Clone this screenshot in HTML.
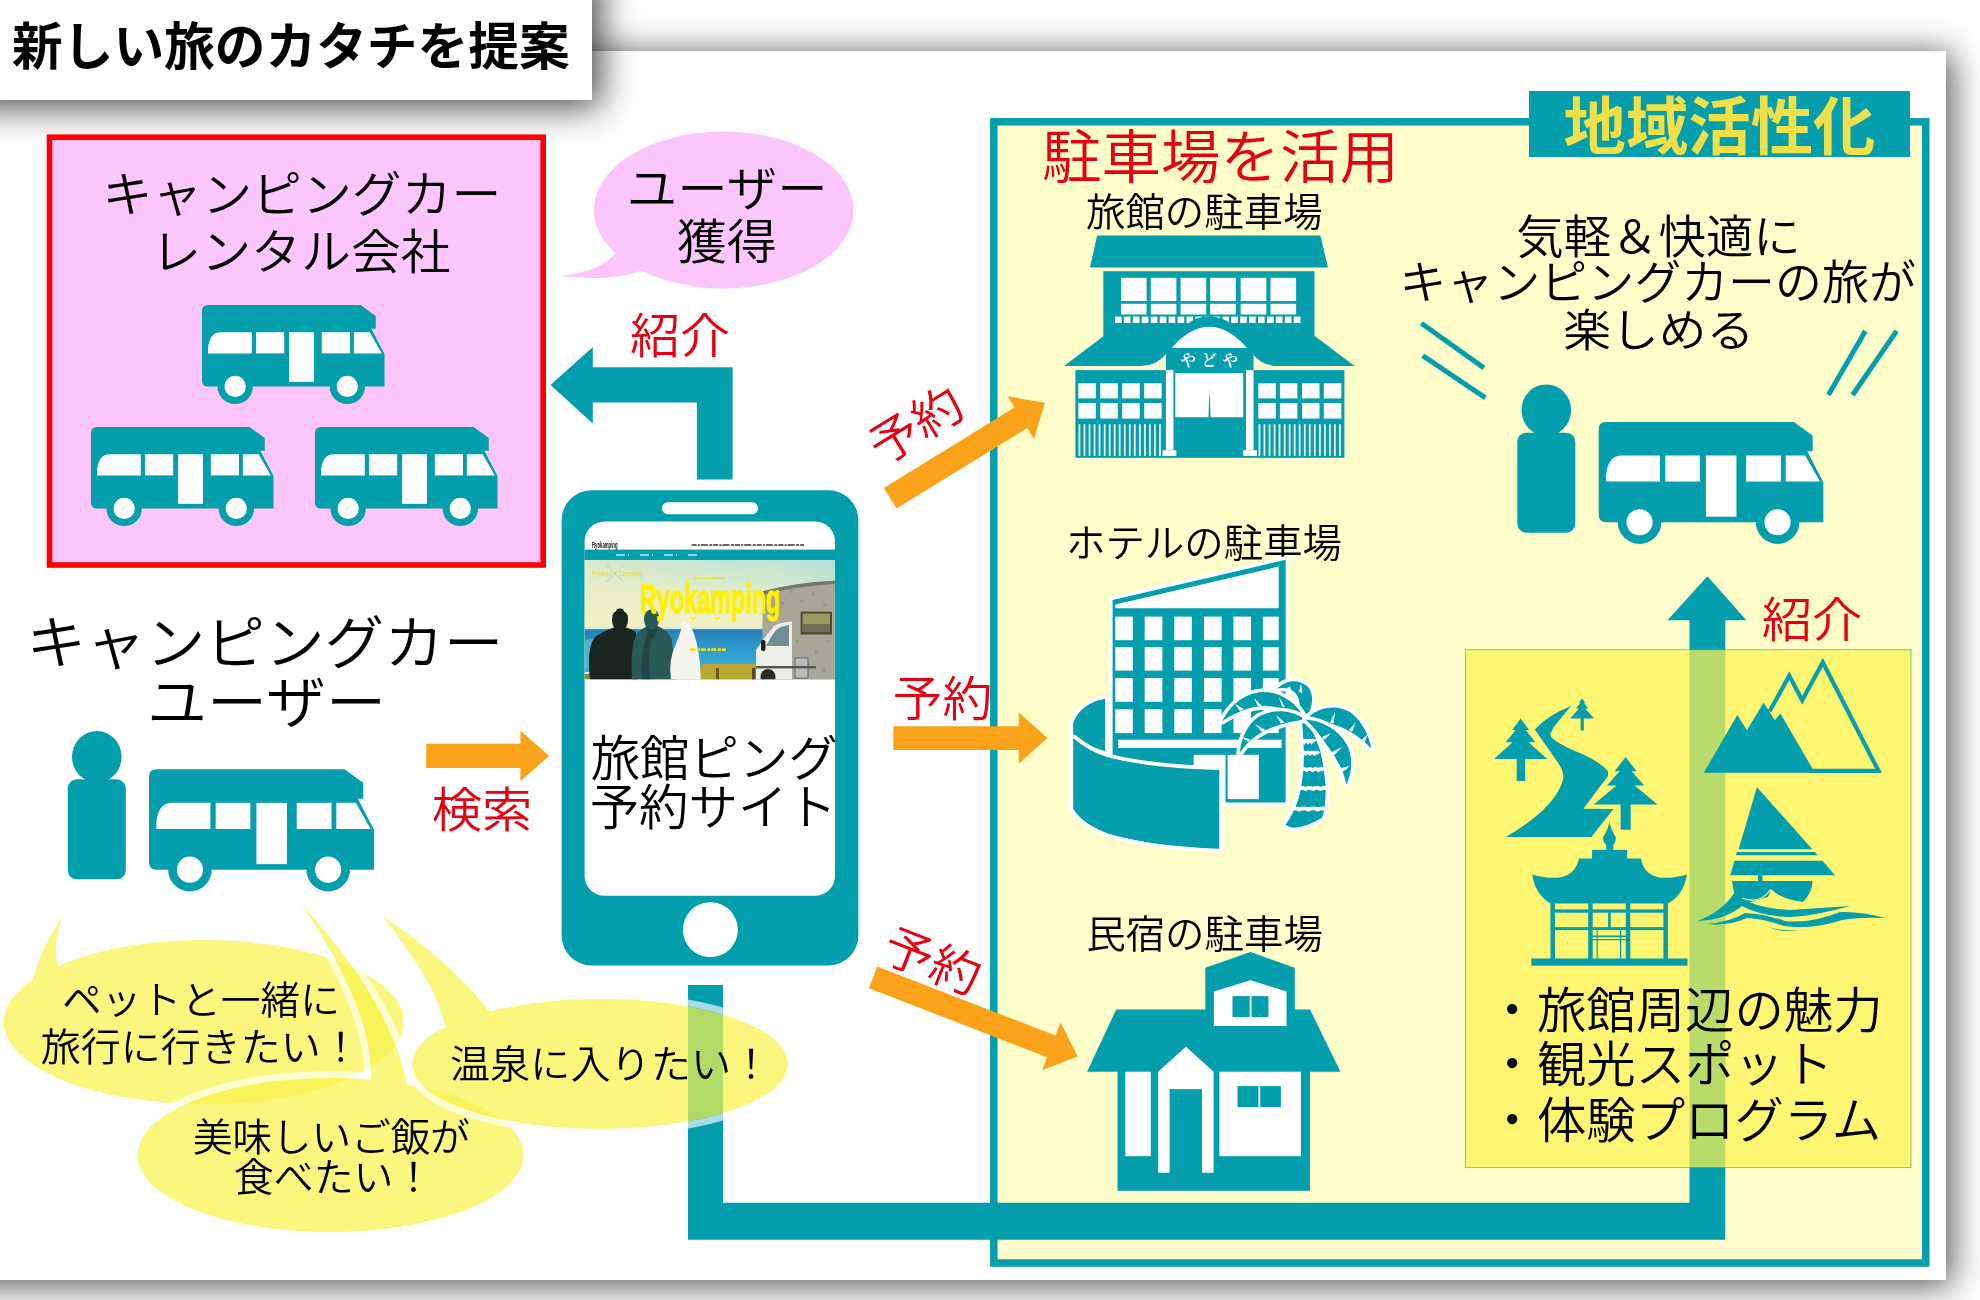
<!DOCTYPE html>
<html lang="ja"><head><meta charset="utf-8"><title>新しい旅のカタチを提案</title>
<style>
html,body{margin:0;padding:0;background:#fff;}
body{width:1980px;height:1300px;position:relative;overflow:hidden;font-family:"Liberation Sans", "Noto Sans CJK JP", sans-serif;}
#card{position:absolute;left:-40px;top:51px;width:1986px;height:1229px;background:#fff;box-shadow:4px 4px 32px 2px rgba(0,0,0,.66);}
#title{position:absolute;left:-40px;top:-40px;width:632px;height:140px;background:#fff;box-shadow:8px 7px 34px rgba(0,0,0,.72);}
#title span{position:absolute;left:52px;top:55px;font-size:50.7px;font-weight:700;line-height:66px;white-space:nowrap;color:#000;}
svg{position:absolute;left:0;top:0;will-change:transform;}
svg text{font-family:"Liberation Sans", "Noto Sans CJK JP", sans-serif;}
</style></head><body>
<div id="card"></div>
<div id="title"><span>新しい旅のカタチを提案</span></div>
<svg width="1980" height="1300" viewBox="0 0 1980 1300">

<defs>
<g id="van">
 <path fill="#049EAC" d="M6,0 H158.5 L173.8,11 V23.8 H169.4 L182.5,49 V81.4 H6 Q0,81.4 0,75.4 V6 Q0,0 6,0 Z"/>
 <circle cx="33.2" cy="81.4" r="17.7" fill="#049EAC"/>
 <circle cx="145.3" cy="81.4" r="17.7" fill="#049EAC"/>
 <circle cx="33.2" cy="81.4" r="10.6" fill="#fff"/>
 <circle cx="145.3" cy="81.4" r="10.6" fill="#fff"/>
 <path fill="#fff" d="M6,48.4 V43 Q7.5,27.2 19,27.2 H49.8 V48.4 Z"/>
 <rect x="54.1" y="27.2" width="28.1" height="21.2" fill="#fff"/>
 <rect x="87.1" y="27.2" width="24.8" height="49.7" fill="#fff"/>
 <rect x="119.8" y="27.2" width="28.2" height="21.2" fill="#fff"/>
 <path fill="#fff" d="M151.9,27.2 H167.7 L179.8,48.4 H151.9 Z"/>
</g>
<g id="person">
 <ellipse cx="0" cy="0" rx="24.8" ry="25.8" fill="#049EAC"/>
 <rect x="-29" y="22.5" width="58" height="100" rx="9" ry="9" fill="#049EAC"/>
</g>
<linearGradient id="sky" x1="0" y1="0" x2="1" y2="0.6">
 <stop offset="0" stop-color="#F4EDBE"/><stop offset="0.5" stop-color="#DCEBCB"/><stop offset="1" stop-color="#A9DCD6"/>
</linearGradient>
<linearGradient id="sea" x1="0" y1="0" x2="0" y2="1">
 <stop offset="0" stop-color="#3A8FBF"/><stop offset="1" stop-color="#1F7FB5"/>
</linearGradient>
</defs>

<rect x="993.8" y="121.8" width="932.0" height="1141.2" fill="#FFFDC9" stroke="#049EAC" stroke-width="7.5"/>
<rect x="1529.0" y="91.0" width="381.0" height="66.0" fill="#049EAC" />
<text x="1719.5" y="148.5" font-size="63" fill="#EFE04A" text-anchor="middle" font-weight="700" textLength="312" lengthAdjust="spacingAndGlyphs">地域活性化</text>
<path fill="#049EAC" d="M688,985 H723 V1202.8 H1689.5 V620.3 H1667.5 L1707.4,576.2 L1746.4,620.3 H1725.3 V1239.7 H688 Z"/>
<rect x="1465.4" y="649.7" width="445.6" height="517.9" fill="rgb(254,243,80)" fill-opacity="0.72" stroke="#049EAC" stroke-opacity="0.55" stroke-width="1"/>
<rect x="49.5" y="137.2" width="493.7" height="427.8" fill="#FBC6FB" stroke="#FF0000" stroke-width="5.6"/>
<text x="302.0" y="212.0" font-size="48.5" fill="#000" text-anchor="middle" font-weight="350"  textLength="399" lengthAdjust="spacingAndGlyphs">キャンピングカー</text>
<text x="301.0" y="269.0" font-size="48" fill="#000" text-anchor="middle" font-weight="350"  textLength="299.5" lengthAdjust="spacingAndGlyphs">レンタル会社</text>
<use href="#van" transform="translate(202,305)"/>
<use href="#van" transform="translate(91,427)"/>
<use href="#van" transform="translate(315,427)"/>
<path fill="#FBC6FB" d="M614.8,253.8 Q600,272 559.4,276 Q610,282 640.6,271 L655,245 Z"/>
<ellipse cx="723.7" cy="210" rx="130" ry="78.4" fill="#FBC6FB"/>
<text x="727.2" y="205.5" font-size="48" fill="#000" text-anchor="middle" font-weight="350"  textLength="201" lengthAdjust="spacingAndGlyphs">ユーザー</text>
<text x="726.7" y="259.0" font-size="48" fill="#000" text-anchor="middle" font-weight="350"  textLength="99.9" lengthAdjust="spacingAndGlyphs">獲得</text>
<path fill="#049EAC" d="M550.5,384.9 L592.8,346.9 V367.2 H732.6 V479.5 H696.9 V402.6 H592.8 V423.4 Z"/>
<text x="680.0" y="353.0" font-size="48" fill="#E60012" text-anchor="middle" font-weight="350"  textLength="100" lengthAdjust="spacingAndGlyphs">紹介</text>
<text x="265.0" y="664.0" font-size="58" fill="#000" text-anchor="middle" font-weight="350"  textLength="477" lengthAdjust="spacingAndGlyphs">キャンピングカー</text>
<text x="266.6" y="723.0" font-size="57" fill="#000" text-anchor="middle" font-weight="350"  textLength="239.3" lengthAdjust="spacingAndGlyphs">ユーザー</text>
<use href="#person" transform="translate(96.8,756.8)"/>
<use href="#van" transform="translate(149,769.3) scale(1.233)"/>
<path fill="#FAA31A" d="M426.2,743.8 H520.4 V730.5 L549.2,756 L520.4,781.2 V767.9 H426.2 Z"/>
<text x="482.0" y="826.5" font-size="48" fill="#E60012" text-anchor="middle" font-weight="350"  textLength="100.6" lengthAdjust="spacingAndGlyphs">検索</text>
<rect x="561.6" y="490.2" width="296.8" height="475.3" rx="30" ry="30" fill="#049EAC"/>
<rect x="584.6" y="521.5" width="250.4" height="374.3" rx="20" ry="20" fill="#fff"/>
<rect x="662" y="502.3" width="96" height="12" rx="6" ry="6" fill="#fff"/>
<circle cx="710.4" cy="929.7" r="27.5" fill="#fff"/>
<clipPath id="ph"><rect x="584.6" y="560" width="250.4" height="119.2"/></clipPath>
<linearGradient id="sky2" x1="0" y1="0" x2="0" y2="1"><stop offset="0" stop-color="#B9E3DC"/><stop offset="0.55" stop-color="#E4EDCB"/><stop offset="1" stop-color="#F4F1C6"/></linearGradient>
<linearGradient id="sky3" x1="0" y1="0" x2="1" y2="0"><stop offset="0" stop-color="#F6EFC0" stop-opacity=".55"/><stop offset="0.6" stop-color="#F6EFC0" stop-opacity=".15"/><stop offset="1" stop-color="#A9DCD6" stop-opacity=".5"/></linearGradient>
<linearGradient id="sea2" x1="0" y1="0" x2="0" y2="1"><stop offset="0" stop-color="#2B7DB4"/><stop offset="0.45" stop-color="#2C9BCB"/><stop offset="1" stop-color="#3FB2D2"/></linearGradient>
<rect x="584.6" y="549.6" width="250.4" height="10.6" fill="#049EAC" />
<text x="592" y="547.6" font-size="8.5" font-weight="700" fill="#111" textLength="25.5" lengthAdjust="spacingAndGlyphs">Ryokamping</text>
<line x1="691.6" y1="545" x2="804" y2="545" stroke="#333" stroke-width="1.5" stroke-dasharray="5 1.2 2 1 7 1.5 3 1"/>
<line x1="616" y1="555" x2="698" y2="555" stroke="#fff" stroke-opacity=".75" stroke-width="1.5" stroke-dasharray="9 3 1 11"/>
<g clip-path="url(#ph)">
<rect x="584.6" y="560" width="250.4" height="70" fill="url(#sky2)"/>
<rect x="584.6" y="560" width="250.4" height="70" fill="url(#sky3)"/>
<rect x="584.6" y="628.2" width="250.4" height="44" fill="url(#sea2)"/>
<rect x="584.6" y="627.6" width="250.4" height="1.6" fill="#CFE6DC"/>
<path fill="#6CC4DA" fill-opacity=".55" d="M584.6,640 Q600,636 618,642 L618,668 H584.6 Z"/>
<path fill="#8A8A2C" d="M584.6,674 Q640,669 700,670 L760,668 L835,668 V680 H584.6 Z"/>
<rect x="700" y="668" width="60" height="12" fill="#B7A82E"/>
<rect x="702" y="664" width="54" height="4" fill="#C79F37"/>
<rect x="716" y="668" width="3" height="12" fill="#6B5A22"/><rect x="752" y="668" width="3.5" height="12" fill="#5B4A1C"/>
<path fill="#A8A699" d="M762.5,591.2 Q795,582.5 835,580.7 V680 H762.5 Z"/>
<path fill="#77776B" d="M762.5,591.2 Q795,582.5 835,580.7 V584 Q795,586 764,595 Z"/>
<path fill="#8f8d80" fill-opacity=".6" d="M790,590 h3 v3 h-3z M800,600 h4 v3 h-4z M812,592 h3 v4 h-3z M823,604 h4 v3 h-4z M795,640 h4 v3 h-4z M815,650 h4 v4 h-4z M826,640 h3 v3 h-3z M806,662 h4 v3 h-4z M822,668 h3 v4 h-3z M781,602 h3 v3 h-3z M773,612 h3 v3 h-3z"/>
<path fill="#ECEEE8" d="M774,626 Q780,622 792,621.4 V680 H756 V650 Q764,638 774,626 Z"/>
<path fill="#6E8E93" d="M776,630 Q781,626 789,625 V646 H766 Q770,638 776,630 Z"/>
<rect x="761" y="640" width="4.5" height="11" rx="2" fill="#20201c"/>
<rect x="800.6" y="611.6" width="31.4" height="22.9" fill="#4B4A3A"/><rect x="802.6" y="613.6" width="27.4" height="18.5" fill="#9A9960"/><rect x="802.6" y="624" width="27.4" height="8" fill="#6D7058"/>
<rect x="795" y="658" width="13" height="20" fill="#B9BCB4" stroke="#555" stroke-width=".8"/>
<ellipse cx="768" cy="677" rx="7.5" ry="8" fill="#2E2A22"/>
<rect x="756" y="666" width="60" height="2.4" fill="#55564c"/>
<path fill="#1B2620" d="M590,680 Q586,646 596,636 Q606,630 614,627.5 Q611,622 612.5,616 Q613,612 616,611.5 Q616.5,608 620,608.5 Q623.5,608 624,611.5 Q628,613 628,618 Q628.5,623 626,627.5 Q632,629 636,632 L638,680 Z"/>
<path fill="#2A5A58" d="M632,680 Q630,644 637,634 Q641,629 646,626.7 Q643,621 644.5,615 Q647,609 652,609.5 Q658,609.5 659,616 Q660,621 657.5,626 Q668,630 672,640 L676,680 Z"/>
<path fill="#1E4446" d="M648,634 Q640,650 642,680 H650 Q648,655 651,640 Z"/>
<path fill="#1E4446" d="M646,626.7 Q652,633 657.5,626 Q656,638 651,640 Q647,636 646,626.7Z"/>
<path fill="#F5F5EF" d="M671,680 Q668,660 676,644 Q680,634 681.5,628 Q681,622 684.5,621 Q690,624 692.5,630 Q700,648 700.8,680 Z"/>
</g>
<text x="710" y="612.9" font-size="40" font-weight="700" fill="#FFF100" stroke="#FFF100" stroke-width="1.3" text-anchor="middle" textLength="140.6" lengthAdjust="spacingAndGlyphs">Ryokamping</text>
<text x="591.8" y="576" font-size="6.5" fill="#E9DD22" textLength="50.6" lengthAdjust="spacingAndGlyphs">Ryokan × Camping</text>
<line x1="606.3" y1="565" x2="623.3" y2="582" stroke="#b4c4ae" stroke-width=".7"/><line x1="623.3" y1="565" x2="606.3" y2="582" stroke="#b4c4ae" stroke-width=".7"/>
<line x1="694.2" y1="578.3" x2="724.4" y2="578.3" stroke="#E9DD22" stroke-width="1.6" stroke-dasharray="4 1 3 1"/>
<line x1="690.3" y1="649.6" x2="725.8" y2="649.6" stroke="#E9DD22" stroke-width="2.6" stroke-dasharray="5 1.5 3 1"/>
<path d="M690,617 l3,2.5 l3,-2.5 M714,617 l3,2.5 l3,-2.5" stroke="#FFF100" stroke-width="1.6" fill="none"/>
<text x="714.2" y="775.5" font-size="48.5" fill="#000" text-anchor="middle" font-weight="350"  textLength="247" lengthAdjust="spacingAndGlyphs">旅館ピング</text>
<text x="713.2" y="825.0" font-size="48.5" fill="#000" text-anchor="middle" font-weight="350"  textLength="247" lengthAdjust="spacingAndGlyphs">予約サイト</text>
<polygon fill="#FAA31A" points="896.6,508.5 1027.2,428.0 1034.0,439.1 1044.9,402.8 1007.6,396.2 1014.5,407.4 883.8,487.9"/>
<polygon fill="#FAA31A" points="893.4,750.0 1018.8,750.0 1018.8,763.7 1047.4,738.1 1018.8,712.5 1018.8,726.2 893.4,726.2"/>
<polygon fill="#FAA31A" points="868.9,988.2 1047.1,1057.2 1042.1,1070.2 1077.7,1056.6 1060.5,1022.6 1055.5,1035.6 877.3,966.6"/>
<text x="0.0" y="0.0" font-size="48" fill="#E60012" text-anchor="middle" font-weight="350" transform="translate(925,440) rotate(-31.7)" textLength="100" lengthAdjust="spacingAndGlyphs">予約</text>
<text x="942.4" y="716.0" font-size="48" fill="#E60012" text-anchor="middle" font-weight="350"  textLength="100" lengthAdjust="spacingAndGlyphs">予約</text>
<text x="0.0" y="0.0" font-size="48" fill="#E60012" text-anchor="middle" font-weight="350" transform="translate(926,977.3) rotate(21.2)" textLength="100" lengthAdjust="spacingAndGlyphs">予約</text>
<text x="1204.3" y="225.5" font-size="39" fill="#000" text-anchor="middle" font-weight="350"  textLength="236.6" lengthAdjust="spacingAndGlyphs">旅館の駐車場</text>
<text x="1220.5" y="178.0" font-size="58" fill="#E60012" text-anchor="middle" font-weight="350"  textLength="357.2" lengthAdjust="spacingAndGlyphs">駐車場を活用</text>
<text x="1204.0" y="556.5" font-size="39" fill="#000" text-anchor="middle" font-weight="350"  textLength="276" lengthAdjust="spacingAndGlyphs">ホテルの駐車場</text>
<text x="1204.6" y="947.5" font-size="39" fill="#000" text-anchor="middle" font-weight="350"  textLength="236.8" lengthAdjust="spacingAndGlyphs">民宿の駐車場</text>
<polygon fill="#049EAC" points="1097.1,235.4 1320.4,235.4 1328,267.4 1090,267.4"/>
<rect x="1103.3" y="271.2" width="211.2" height="65.8" fill="#049EAC" />
<rect x="1121.0" y="277.8" width="25.6" height="23.2" fill="#fff" />
<rect x="1121.0" y="303.8" width="25.6" height="10.7" fill="#fff" />
<rect x="1150.8" y="277.8" width="25.6" height="23.2" fill="#fff" />
<rect x="1150.8" y="303.8" width="25.6" height="10.7" fill="#fff" />
<rect x="1180.6" y="277.8" width="25.6" height="23.2" fill="#fff" />
<rect x="1180.6" y="303.8" width="25.6" height="10.7" fill="#fff" />
<rect x="1210.2" y="277.8" width="25.6" height="23.2" fill="#fff" />
<rect x="1210.2" y="303.8" width="25.6" height="10.7" fill="#fff" />
<rect x="1240.7" y="277.8" width="25.6" height="23.2" fill="#fff" />
<rect x="1240.7" y="303.8" width="25.6" height="10.7" fill="#fff" />
<rect x="1270.5" y="277.8" width="25.6" height="23.2" fill="#fff" />
<rect x="1270.5" y="303.8" width="25.6" height="10.7" fill="#fff" />
<rect x="1115.0" y="316.6" width="6.6" height="6.4" fill="#fff" />
<rect x="1123.9" y="316.6" width="6.6" height="6.4" fill="#fff" />
<rect x="1132.9" y="316.6" width="6.6" height="6.4" fill="#fff" />
<rect x="1141.8" y="316.6" width="6.6" height="6.4" fill="#fff" />
<rect x="1150.8" y="316.6" width="6.6" height="6.4" fill="#fff" />
<rect x="1159.7" y="316.6" width="6.6" height="6.4" fill="#fff" />
<rect x="1168.6" y="316.6" width="6.6" height="6.4" fill="#fff" />
<rect x="1177.6" y="316.6" width="6.6" height="6.4" fill="#fff" />
<rect x="1186.5" y="316.6" width="6.6" height="6.4" fill="#fff" />
<rect x="1195.5" y="316.6" width="6.6" height="6.4" fill="#fff" />
<rect x="1204.4" y="316.6" width="6.6" height="6.4" fill="#fff" />
<rect x="1213.3" y="316.6" width="6.6" height="6.4" fill="#fff" />
<rect x="1222.3" y="316.6" width="6.6" height="6.4" fill="#fff" />
<rect x="1231.2" y="316.6" width="6.6" height="6.4" fill="#fff" />
<rect x="1240.2" y="316.6" width="6.6" height="6.4" fill="#fff" />
<rect x="1249.1" y="316.6" width="6.6" height="6.4" fill="#fff" />
<rect x="1258.0" y="316.6" width="6.6" height="6.4" fill="#fff" />
<rect x="1267.0" y="316.6" width="6.6" height="6.4" fill="#fff" />
<rect x="1275.9" y="316.6" width="6.6" height="6.4" fill="#fff" />
<rect x="1284.9" y="316.6" width="6.6" height="6.4" fill="#fff" />
<rect x="1293.8" y="316.6" width="6.6" height="6.4" fill="#fff" />
<path fill="#049EAC" d="M1103.3,336.2 H1315.3 L1354.5,366 H1278.1 Q1262,366 1252.7,354 H1165.9 Q1156.6,366 1140.5,366 H1064.1 Z"/>
<path fill="#049EAC" d="M1158,337 Q1178,334 1186,325 Q1196,316.6 1209.3,316.6 Q1222.6,316.6 1232.6,325 Q1240.6,334 1260.6,337 V348 H1158 Z"/>
<rect x="1165.9" y="347.0" width="87.6" height="24.0" fill="#049EAC" />
<path fill="#fff" d="M1171.6,347.9 Q1209.3,305.7 1247,347.9 Z"/>
<rect x="1075.4" y="370.1" width="269.0" height="87.7" fill="#049EAC" />
<rect x="1165.9" y="370.1" width="7.5" height="80.1" fill="#fff" />
<rect x="1162.5" y="450.2" width="13.8" height="5.7" fill="#fff" />
<rect x="1246.0" y="370.1" width="7.5" height="80.1" fill="#fff" />
<rect x="1243.2" y="450.2" width="13.7" height="5.7" fill="#fff" />
<path fill="#fff" d="M1175.3,373.3 H1243.2 V417.2 H1210.6 L1209.6,389 L1208.4,417.2 H1175.3 Z"/>
<rect x="1078.3" y="383.3" width="17.5" height="15.1" fill="#fff" />
<rect x="1078.3" y="403.1" width="17.5" height="15.5" fill="#fff" />
<rect x="1100.3" y="383.3" width="17.5" height="15.1" fill="#fff" />
<rect x="1100.3" y="403.1" width="17.5" height="15.5" fill="#fff" />
<rect x="1122.2" y="383.3" width="17.5" height="15.1" fill="#fff" />
<rect x="1122.2" y="403.1" width="17.5" height="15.5" fill="#fff" />
<rect x="1144.2" y="383.3" width="17.5" height="15.1" fill="#fff" />
<rect x="1144.2" y="403.1" width="17.5" height="15.5" fill="#fff" />
<rect x="1258.3" y="383.3" width="17.5" height="15.1" fill="#fff" />
<rect x="1258.3" y="403.1" width="17.5" height="15.5" fill="#fff" />
<rect x="1279.9" y="383.3" width="17.5" height="15.1" fill="#fff" />
<rect x="1279.9" y="403.1" width="17.5" height="15.5" fill="#fff" />
<rect x="1302.0" y="383.3" width="17.5" height="15.1" fill="#fff" />
<rect x="1302.0" y="403.1" width="17.5" height="15.5" fill="#fff" />
<rect x="1323.8" y="383.3" width="17.5" height="15.1" fill="#fff" />
<rect x="1323.8" y="403.1" width="17.5" height="15.5" fill="#fff" />
<rect x="1078.6" y="424.2" width="1.7" height="31.7" fill="#fff" />
<rect x="1258.6" y="424.2" width="1.7" height="31.7" fill="#fff" />
<rect x="1083.6" y="424.2" width="1.7" height="31.7" fill="#fff" />
<rect x="1263.6" y="424.2" width="1.7" height="31.7" fill="#fff" />
<rect x="1088.7" y="424.2" width="1.7" height="31.7" fill="#fff" />
<rect x="1268.7" y="424.2" width="1.7" height="31.7" fill="#fff" />
<rect x="1093.7" y="424.2" width="1.7" height="31.7" fill="#fff" />
<rect x="1273.7" y="424.2" width="1.7" height="31.7" fill="#fff" />
<rect x="1098.7" y="424.2" width="1.7" height="31.7" fill="#fff" />
<rect x="1278.7" y="424.2" width="1.7" height="31.7" fill="#fff" />
<rect x="1103.8" y="424.2" width="1.7" height="31.7" fill="#fff" />
<rect x="1283.8" y="424.2" width="1.7" height="31.7" fill="#fff" />
<rect x="1108.8" y="424.2" width="1.7" height="31.7" fill="#fff" />
<rect x="1288.8" y="424.2" width="1.7" height="31.7" fill="#fff" />
<rect x="1113.8" y="424.2" width="1.7" height="31.7" fill="#fff" />
<rect x="1293.8" y="424.2" width="1.7" height="31.7" fill="#fff" />
<rect x="1118.8" y="424.2" width="1.7" height="31.7" fill="#fff" />
<rect x="1298.8" y="424.2" width="1.7" height="31.7" fill="#fff" />
<rect x="1123.9" y="424.2" width="1.7" height="31.7" fill="#fff" />
<rect x="1303.9" y="424.2" width="1.7" height="31.7" fill="#fff" />
<rect x="1128.9" y="424.2" width="1.7" height="31.7" fill="#fff" />
<rect x="1308.9" y="424.2" width="1.7" height="31.7" fill="#fff" />
<rect x="1133.9" y="424.2" width="1.7" height="31.7" fill="#fff" />
<rect x="1313.9" y="424.2" width="1.7" height="31.7" fill="#fff" />
<rect x="1139.0" y="424.2" width="1.7" height="31.7" fill="#fff" />
<rect x="1319.0" y="424.2" width="1.7" height="31.7" fill="#fff" />
<rect x="1144.0" y="424.2" width="1.7" height="31.7" fill="#fff" />
<rect x="1324.0" y="424.2" width="1.7" height="31.7" fill="#fff" />
<rect x="1149.0" y="424.2" width="1.7" height="31.7" fill="#fff" />
<rect x="1329.0" y="424.2" width="1.7" height="31.7" fill="#fff" />
<rect x="1154.0" y="424.2" width="1.7" height="31.7" fill="#fff" />
<rect x="1334.0" y="424.2" width="1.7" height="31.7" fill="#fff" />
<rect x="1159.1" y="424.2" width="1.7" height="31.7" fill="#fff" />
<rect x="1339.1" y="424.2" width="1.7" height="31.7" fill="#fff" />
<text x="1212" y="365.5" font-size="15.5" fill="#fff" text-anchor="middle" font-weight="700" style="font-family:'Liberation Serif','Noto Serif CJK SC',serif" letter-spacing="5.5">やどや</text><path fill="#049EAC" stroke="#fff" stroke-width="7.5" stroke-linejoin="round" paint-order="stroke" d="M1112.6,600 L1285.6,559.8 V802.6 H1225.5 V771 H1112.6 Z"/>
<path fill="#fff" d="M1115.3,604.4 L1278.7,566.6 V608.3 H1115.3 Z"/>
<rect x="1115.3" y="616.6" width="17.5" height="23.6" fill="#fff" />
<rect x="1115.3" y="647.1" width="17.5" height="23.5" fill="#fff" />
<rect x="1115.3" y="678.1" width="17.5" height="23.7" fill="#fff" />
<rect x="1115.3" y="709.3" width="17.5" height="23.8" fill="#fff" />
<rect x="1144.7" y="616.6" width="17.7" height="23.6" fill="#fff" />
<rect x="1144.7" y="647.1" width="17.7" height="23.5" fill="#fff" />
<rect x="1144.7" y="678.1" width="17.7" height="23.7" fill="#fff" />
<rect x="1144.7" y="709.3" width="17.7" height="23.8" fill="#fff" />
<rect x="1174.3" y="616.6" width="17.5" height="23.6" fill="#fff" />
<rect x="1174.3" y="647.1" width="17.5" height="23.5" fill="#fff" />
<rect x="1174.3" y="678.1" width="17.5" height="23.7" fill="#fff" />
<rect x="1174.3" y="709.3" width="17.5" height="23.8" fill="#fff" />
<rect x="1204.0" y="616.6" width="17.6" height="23.6" fill="#fff" />
<rect x="1204.0" y="647.1" width="17.6" height="23.5" fill="#fff" />
<rect x="1204.0" y="678.1" width="17.6" height="23.7" fill="#fff" />
<rect x="1204.0" y="709.3" width="17.6" height="23.8" fill="#fff" />
<rect x="1233.5" y="616.6" width="17.5" height="23.6" fill="#fff" />
<rect x="1233.5" y="647.1" width="17.5" height="23.5" fill="#fff" />
<rect x="1233.5" y="678.1" width="17.5" height="23.7" fill="#fff" />
<rect x="1233.5" y="709.3" width="17.5" height="23.8" fill="#fff" />
<rect x="1262.9" y="616.6" width="15.8" height="23.6" fill="#fff" />
<rect x="1262.9" y="647.1" width="15.8" height="23.5" fill="#fff" />
<rect x="1262.9" y="678.1" width="15.8" height="23.7" fill="#fff" />
<rect x="1262.9" y="709.3" width="15.8" height="23.8" fill="#fff" />
<rect x="1118.2" y="739.7" width="163.4" height="8.2" fill="#fff" />
<rect x="1193.7" y="754.8" width="31.8" height="17.2" fill="#fff" />
<rect x="1227.6" y="754.8" width="31.2" height="44.3" fill="#fff" />
<path fill="#049EAC" stroke="#fff" stroke-width="7.5" stroke-linejoin="round" paint-order="stroke" d="M1073.2,722.9 Q1080,703.5 1105,698.7 V751.3 Q1082,744 1073.2,734.7 Z"/>
<path fill="#049EAC" stroke="#fff" stroke-width="7.5" stroke-linejoin="round" paint-order="stroke" d="M1073.2,738.2 Q1090,752 1108.5,757.6 Q1150,768 1219.3,770 V848.7 Q1150,846 1108.5,833.7 Q1082,824 1073.2,808.8 Z"/>
<path fill="#049EAC" stroke="#fff" stroke-width="7" stroke-linejoin="round" paint-order="stroke" d="M1302,722 C1304,745 1306,770 1298.6,798.5 Q1293,815 1285.5,824.8 Q1296,833 1322.2,817.8 C1328,800 1326,775 1320,750 Q1314,735 1310,722 Z"/>
<path fill="#049EAC" stroke="#fff" stroke-width="7" stroke-linejoin="round" paint-order="stroke" d="M1305.5,719.5 C1313,708 1315,694 1307,686 C1298,678.5 1286,680 1277,688.5 C1290,686 1297,692 1299,700 C1300,708 1302,714 1305.5,719.5 Z"/>
<path fill="#049EAC" stroke="#fff" stroke-width="7" stroke-linejoin="round" paint-order="stroke" d="M1305.5,719.5 C1295,700 1278,691.5 1262,692 C1245,693 1230,705 1222.5,720.9 C1236,712 1250,706.5 1264,706 C1280,706 1294,712 1305.5,719.5 Z"/>
<path fill="#049EAC" stroke="#fff" stroke-width="7" stroke-linejoin="round" paint-order="stroke" d="M1305.5,719.5 C1290,709 1272,709 1258,717 C1246,726 1241,740 1239.8,752.8 C1247,742 1256,735 1266,730 C1280,724 1293,721 1305.5,719.5 Z"/>
<path fill="#049EAC" stroke="#fff" stroke-width="7" stroke-linejoin="round" paint-order="stroke" d="M1305.5,719.5 C1320,705 1338,705 1350,712 C1362,721 1369,735 1371.3,748.6 C1362,739 1352,731.5 1342,727.5 C1330,722.5 1318,720.5 1305.5,719.5 Z"/>
<path fill="#049EAC" stroke="#fff" stroke-width="7" stroke-linejoin="round" paint-order="stroke" d="M1305.5,719.5 C1325,721 1341,732 1348,747 C1353,760 1352,773 1346.4,784.6 C1344,772 1338,761 1331,751 C1323,739 1315,728 1305.5,719.5 Z"/>
<path d="M1301.0,741.7 q1.8,-2.2 3.5,0 q1.8,-2.2 3.5,0 q1.8,-2.2 3.5,0 q1.8,-2.2 3.5,0" fill="none" stroke="#fff" stroke-width="3.8"/>
<path d="M1301.0,753.5 q2.2,-2.2 4.5,0 q2.2,-2.2 4.5,0 q2.2,-2.2 4.5,0 q2.2,-2.2 4.5,0" fill="none" stroke="#fff" stroke-width="3.8"/>
<path d="M1301.0,770.0 q2.9,-2.2 5.8,0 q2.9,-2.2 5.8,0 q2.9,-2.2 5.8,0 q2.9,-2.2 5.8,0" fill="none" stroke="#fff" stroke-width="3.8"/>
<path d="M1298.0,789.0 q3.8,-2.2 7.5,0 q3.8,-2.2 7.5,0 q3.8,-2.2 7.5,0 q3.8,-2.2 7.5,0" fill="none" stroke="#fff" stroke-width="3.8"/>
<path d="M1290.0,809.5 q4.6,-2.2 9.2,0 q4.6,-2.2 9.2,0 q4.6,-2.2 9.2,0 q4.6,-2.2 9.2,0" fill="none" stroke="#fff" stroke-width="3.8"/>
<polygon points="1290,686.5 1293,695 1287,688" fill="#fff"/>
<polygon points="1299,692 1301,684 1302.5,693" fill="#fff"/>
<polygon points="1282,706.5 1279,697 1285,707" fill="#fff"/>
<polygon points="1258,706.5 1254,698 1262,706" fill="#fff"/>
<polygon points="1240,711 1235,704 1244,709" fill="#fff"/>
<polygon points="1281,723.5 1276,715 1284.5,722.5" fill="#fff"/>
<polygon points="1262,732 1255,724 1265.5,730" fill="#fff"/>
<polygon points="1248,742 1242,737 1250.5,739.5" fill="#fff"/>
<polygon points="1330,722.5 1335,712 1333.5,723.5" fill="#fff"/>
<polygon points="1349,730 1356,722 1352,732" fill="#fff"/>
<polygon points="1362,739.5 1368,734 1364.5,742" fill="#fff"/>
<polygon points="1322,737 1331,733 1324,740" fill="#fff"/>
<polygon points="1332,752 1342,747 1334,755.5" fill="#fff"/>
<polygon points="1341,768 1350,766 1342.5,772" fill="#fff"/>
<polygon fill="#049EAC" points="1205.3,967.8 1250.5,952.1 1294.8,967.8 1294.8,1012 1205.3,1012"/>
<polygon fill="#049EAC" points="1116.2,1009.4 1310,1009.4 1340.5,1071.7 1087.1,1071.7"/>
<rect x="1117.5" y="1071.0" width="192.5" height="119.8" fill="#049EAC" />
<polygon fill="#fff" points="1213.9,991.4 1250.5,980.3 1286.5,991.4 1286.5,1026 1213.9,1026"/>
<rect x="1232.5" y="996.1" width="36.0" height="21.0" fill="#049EAC" />
<rect x="1249.7" y="996.1" width="1.8" height="21.0" fill="#fff" />
<rect x="1125.3" y="1071.7" width="25.5" height="84.5" fill="#fff" />
<polygon fill="#fff" points="1185.9,1046.8 1213.6,1071.7 1213.6,1172.8 1158.2,1172.8 1158.2,1071.7"/>
<rect x="1169.6" y="1089.1" width="32.4" height="84.4" fill="#049EAC" />
<rect x="1219.4" y="1071.7" width="81.5" height="84.5" fill="#fff" />
<rect x="1237.5" y="1086.1" width="43.4" height="21.0" fill="#049EAC" />
<rect x="1258.4" y="1086.1" width="1.8" height="21.0" fill="#fff" />
<text x="1658.5" y="252.5" font-size="46" fill="#000" text-anchor="middle" font-weight="350"  textLength="284.3" lengthAdjust="spacingAndGlyphs">気軽＆快適に</text>
<text x="1657.7" y="299.0" font-size="46.2" fill="#000" text-anchor="middle" font-weight="350"  textLength="516.4" lengthAdjust="spacingAndGlyphs">キャンピングカーの旅が</text>
<text x="1658.8" y="347.0" font-size="45.5" fill="#000" text-anchor="middle" font-weight="350"  textLength="191.2" lengthAdjust="spacingAndGlyphs">楽しめる</text>
<line x1="1421.3" y1="323.2" x2="1483.9" y2="367.9" stroke="#049EAC" stroke-width="5"/>
<line x1="1422.7" y1="355.7" x2="1485.4" y2="397.8" stroke="#049EAC" stroke-width="5"/>
<line x1="1865.4" y1="330.9" x2="1828.4" y2="395" stroke="#049EAC" stroke-width="5"/>
<line x1="1896.7" y1="330.9" x2="1852.6" y2="395" stroke="#049EAC" stroke-width="5"/>
<use href="#person" transform="translate(1546.3,410.2)"/>
<use href="#van" transform="translate(1598.7,422) scale(1.231)"/>
<text x="1812.0" y="636.5" font-size="48" fill="#E60012" text-anchor="middle" font-weight="350"  textLength="100.7" lengthAdjust="spacingAndGlyphs">紹介</text>
<path fill="#049EAC" d="M1571.1,706 Q1548,715 1534.8,729.4 L1546.4,746 L1558.7,763.8 Q1566,775 1561.8,783.5 Q1552,810 1505.8,837 H1591.4 L1613.5,809.1 L1583.4,808.7 L1608,776.1 V771.2 Q1600,762 1582.1,754 Q1560,745 1553.8,739.2 Q1549,736 1550.8,733.1 Q1553,727 1558.8,720.8 Q1565,713 1571.1,706 Z"/>
<polygon fill="#049EAC" stroke="#FFF57C" stroke-width="3" stroke-linejoin="miter" paint-order="stroke" points="1520.6,718.5 1529.1,730.0 1525.6,730.0 1535.6,742.3 1528.6,742.3 1547.2,758.9 1525.2,758.9 1525.2,781.1 1516.7,781.1 1516.7,758.9 1494.0,758.9 1512.6,742.3 1505.6,742.3 1515.6,730.0 1512.1,730.0"/>
<polygon fill="#049EAC" stroke="#FFF57C" stroke-width="3" stroke-linejoin="miter" paint-order="stroke" points="1582.1,698.4 1585.3,702.5 1583.6,702.5 1588.3,708.5 1585.1,708.5 1594.1,718.5 1583.8,718.5 1583.8,730.6 1580.6,730.6 1580.6,718.5 1570.1,718.5 1579.1,708.5 1575.9,708.5 1580.6,702.5 1578.9,702.5"/>
<polygon fill="#049EAC" stroke="#FFF57C" stroke-width="3" stroke-linejoin="miter" paint-order="stroke" points="1625.6,757.1 1636.7,771.2 1631.6,771.2 1644.4,785.4 1634.6,785.4 1657.6,804.4 1630.7,804.4 1630.7,829.7 1620.6,829.7 1620.6,804.4 1593.6,804.4 1616.6,785.4 1606.8,785.4 1619.6,771.2 1614.5,771.2"/>
<path fill="#049EAC" d="M1609.4,821.8 Q1611,830 1616,837.5 Q1616,842 1613.3,844.7 V850 H1606.1 V844.7 Q1603,842 1602.9,837.5 Q1608,830 1609.4,821.8 Z"/>
<rect x="1592.1" y="849.9" width="35.0" height="9.1" fill="#049EAC" />
<path fill="#049EAC" d="M1579.1,858.4 H1640.8 Q1646,886 1686.9,874.4 Q1684,894 1668,903.5 H1550.5 Q1535,894 1532.2,874.4 Q1573,886 1579.1,858.4 Z"/>
<rect x="1550.5" y="903.0" width="4.5" height="56.0" fill="#049EAC" />
<rect x="1588.2" y="903.0" width="4.5" height="56.0" fill="#049EAC" />
<rect x="1625.8" y="903.0" width="4.5" height="56.0" fill="#049EAC" />
<rect x="1663.4" y="903.0" width="4.5" height="56.0" fill="#049EAC" />
<rect x="1550.5" y="909.4" width="117.5" height="3.3" fill="#049EAC" />
<rect x="1550.5" y="927.1" width="117.5" height="3.0" fill="#049EAC" />
<rect x="1608.1" y="912.0" width="2.6" height="16.0" fill="#049EAC" />
<rect x="1592.0" y="935.5" width="34.0" height="1.7" fill="#049EAC" />
<rect x="1592.0" y="939.0" width="34.0" height="1.2" fill="#049EAC" />
<rect x="1596.6" y="930.0" width="1.2" height="29.0" fill="#049EAC" />
<rect x="1620.0" y="930.0" width="1.2" height="29.0" fill="#049EAC" />
<rect x="1531.3" y="958.5" width="156.2" height="7.2" fill="#049EAC" />
<polygon fill="#049EAC" points="1703.8,772.7 1737.3,715.1 1746.9,730.3 1763.6,702.4 1774.8,720.3 1780.4,713.6 1812.3,768.3 1812.3,772.7"/>
<polyline fill="none" stroke="#049EAC" stroke-width="4.2" stroke-linejoin="miter" points="1769.5,711.5 1789.3,675.7 1802.2,700.2 1822.8,662.3 1878.5,770.9 1810,770.9"/>
<polygon fill="#049EAC" points="1756.9,787.2 1812.3,849.2 1738.6,849.2"/>
<polygon fill="#049EAC" points="1736.9,851.9 1814.8,851.9 1817.8,855.3 1735.9,855.3"/>
<polygon fill="#049EAC" points="1734.5,860.8 1822.5,860.8 1835,875.3 1730.2,875.3"/>
<rect x="1758.0" y="875.0" width="4.5" height="6.5" fill="#049EAC" />
<path fill="#049EAC" d="M1731.9,880.9 H1812.7 Q1812,893 1803,902 Q1780,899 1771,889 L1768,897 Q1750,902 1738,906 Q1734,895 1731.9,880.9 Z"/>
<path fill="#049EAC" d="M1697,921 Q1722,912 1734,893 Q1752,908 1790,910 Q1820,908 1850,906 Q1815,916 1790,917 Q1760,916 1742,906 Q1725,920 1697,921 Z"/>
<path fill="#049EAC" d="M1707,924 Q1730,922 1745,913 Q1765,914 1785,921 Q1810,924 1840,912 Q1860,911 1886,918 Q1860,917 1842,920 Q1812,930 1784,926 Q1764,919 1747,918 Q1730,926 1707,924 Z"/>
<path fill="#049EAC" d="M1768,927 Q1790,933 1812,929 Q1800,931 1785,931 Q1775,930 1768,927 Z"/>
<path fill="none" stroke="#FFF57C" stroke-width="1.2" d="M1742,898 Q1760,905 1770,890 Q1780,900 1803,903"/>
<text x="1487.5" y="1027.5" font-size="49.4" fill="#000" text-anchor="start" font-weight="350" >・旅館周辺の魅力</text>
<text x="1487.5" y="1081.5" font-size="49.4" fill="#000" text-anchor="start" font-weight="350" >・観光スポット</text>
<text x="1487.5" y="1137.5" font-size="49.4" fill="#000" text-anchor="start" font-weight="350" >・体験プログラム</text>
<mask id="bm1" maskUnits="userSpaceOnUse" x="0" y="880" width="820" height="420"><rect x="0" y="880" width="820" height="420" fill="#fff"/><path d="M33.0,979.5 Q42,945 62.6,916.4 Q52,945 58.0,966.0 A200,82 0 1 1 33.0,979.5 Z" fill="#000"/></mask><path d="M33.0,979.5 Q42,945 62.6,916.4 Q52,945 58.0,966.0 A200,82 0 1 1 33.0,979.5 Z" fill="none" stroke="#fff" stroke-opacity="0.65" stroke-width="14" stroke-linejoin="round" mask="url(#bm1)"/><path d="M33.0,979.5 Q42,945 62.6,916.4 Q52,945 58.0,966.0 A200,82 0 1 1 33.0,979.5 Z" fill="rgb(248,242,73)" fill-opacity="0.71"/>
<mask id="bm2" maskUnits="userSpaceOnUse" x="0" y="880" width="820" height="420"><rect x="0" y="880" width="820" height="420" fill="#fff"/><path d="M371.0,1079.8 Q374,1010 301,904 Q390,1000 407.0,1084.4 A193,77 0 1 1 371.0,1079.8 Z" fill="#000"/></mask><path d="M371.0,1079.8 Q374,1010 301,904 Q390,1000 407.0,1084.4 A193,77 0 1 1 371.0,1079.8 Z" fill="none" stroke="#fff" stroke-opacity="0.65" stroke-width="14" stroke-linejoin="round" mask="url(#bm2)"/><path d="M371.0,1079.8 Q374,1010 301,904 Q390,1000 407.0,1084.4 A193,77 0 1 1 371.0,1079.8 Z" fill="rgb(248,242,73)" fill-opacity="0.71"/>
<mask id="bm3" maskUnits="userSpaceOnUse" x="0" y="880" width="820" height="420"><rect x="0" y="880" width="820" height="420" fill="#fff"/><path d="M445.0,1027.2 Q438,985 381.8,915.6 Q455,965 489.0,1011.5 A188,65 0 1 1 445.0,1027.2 Z" fill="#000"/></mask><path d="M445.0,1027.2 Q438,985 381.8,915.6 Q455,965 489.0,1011.5 A188,65 0 1 1 445.0,1027.2 Z" fill="none" stroke="#fff" stroke-opacity="0.65" stroke-width="14" stroke-linejoin="round" mask="url(#bm3)"/><path d="M445.0,1027.2 Q438,985 381.8,915.6 Q455,965 489.0,1011.5 A188,65 0 1 1 445.0,1027.2 Z" fill="rgb(248,242,73)" fill-opacity="0.71"/>
<text x="201.0" y="1014.0" font-size="38.7" fill="#000" text-anchor="middle" font-weight="350"  textLength="278" lengthAdjust="spacingAndGlyphs">ペットと一緒に</text>
<text x="200.7" y="1060.5" font-size="38.7" fill="#000" text-anchor="middle" font-weight="350"  textLength="320" lengthAdjust="spacingAndGlyphs">旅行に行きたい！</text>
<text x="610.6" y="1077.5" font-size="38.7" fill="#000" text-anchor="middle" font-weight="350"  textLength="321.4" lengthAdjust="spacingAndGlyphs">温泉に入りたい！</text>
<text x="331.4" y="1151.0" font-size="38.9" fill="#000" text-anchor="middle" font-weight="350"  textLength="277" lengthAdjust="spacingAndGlyphs">美味しいご飯が</text>
<text x="333.6" y="1191.0" font-size="38.9" fill="#000" text-anchor="middle" font-weight="350"  textLength="199.6" lengthAdjust="spacingAndGlyphs">食べたい！</text>
</svg>
</body></html>
